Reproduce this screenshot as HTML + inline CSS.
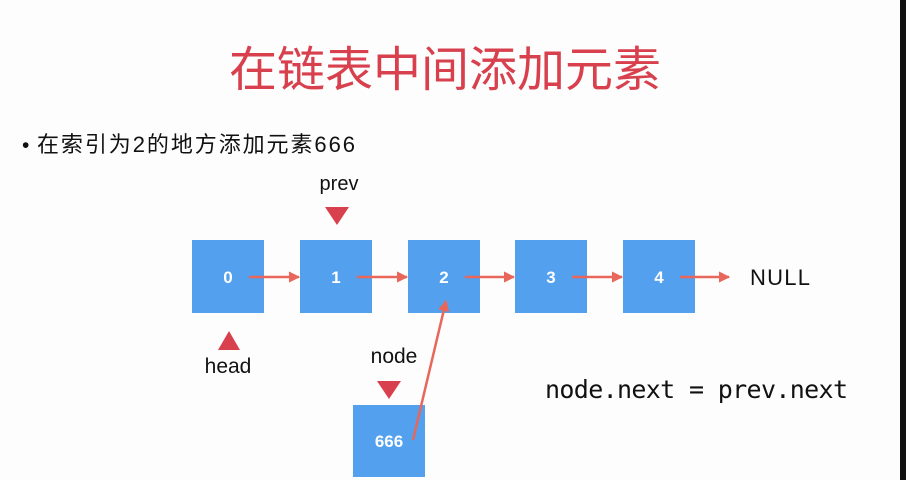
<!DOCTYPE html>
<html><head><meta charset="utf-8"><style>
html,body{margin:0;padding:0;background:#fdfdfd;}
body{width:906px;height:480px;overflow:hidden;position:relative;}
</style></head><body>
<svg width="906" height="480" viewBox="0 0 906 480" xmlns="http://www.w3.org/2000/svg" style="position:absolute;left:0;top:0">
<defs>
<marker id="a" viewBox="0 0 10 10" refX="9" refY="5" markerWidth="4.5" markerHeight="4.5" orient="auto"><path d="M0,0L10,5L0,10z" fill="#e8675a"/></marker>
</defs>
<rect x="0" y="0" width="906" height="480" fill="#fdfdfd"/>
<rect x="900" y="0" width="6" height="480" fill="#111"/>
<text x="445" y="86" text-anchor="middle" font-family="Liberation Sans,'Noto Sans CJK SC',sans-serif" font-size="48" fill="#d8404e">在链表中间添加元素</text>
<text x="22" y="152" font-family="Liberation Sans,'Noto Sans CJK SC',sans-serif" font-size="21" fill="#111">•</text>
<text x="37" y="152" font-family="Liberation Sans,'Noto Sans CJK SC',sans-serif" font-size="22" fill="#111" textLength="318">在索引为2的地方添加元素666</text>
<text x="339" y="190" text-anchor="middle" font-family="Liberation Sans,sans-serif" font-size="20" fill="#111">prev</text>
<path d="M325,207L349,207L337,225z" fill="#d8404e"/>
<g fill="#52a0ee">
<rect x="192" y="240" width="72" height="73"/>
<rect x="300" y="240" width="72" height="73"/>
<rect x="408" y="240" width="72" height="73"/>
<rect x="515" y="240" width="72" height="73"/>
<rect x="623" y="240" width="72" height="73"/>
<rect x="353" y="405" width="72" height="72"/>
</g>
<g font-family="Liberation Sans,sans-serif" font-size="17" font-weight="bold" fill="#fff" text-anchor="middle">
<text x="228" y="283">0</text><text x="336" y="283">1</text><text x="444" y="283">2</text><text x="551" y="283">3</text><text x="659" y="283">4</text><text x="389" y="447">666</text>
</g>
<g stroke="#e8675a" stroke-width="2.5" marker-end="url(#a)">
<line x1="249" y1="277" x2="299" y2="277"/>
<line x1="357" y1="277" x2="407" y2="277"/>
<line x1="465" y1="277" x2="514" y2="277"/>
<line x1="572" y1="277" x2="622" y2="277"/>
<line x1="680" y1="277" x2="729" y2="277"/>
<line x1="413" y1="440" x2="446" y2="301"/>
</g>
<text x="750" y="285" font-family="Liberation Sans,sans-serif" font-size="22" fill="#111" textLength="60">NULL</text>
<path d="M218,350L240,350L229,331z" fill="#d8404e"/>
<text x="228" y="373" text-anchor="middle" font-family="Liberation Sans,sans-serif" font-size="21" fill="#111">head</text>
<text x="394" y="363" text-anchor="middle" font-family="Liberation Sans,sans-serif" font-size="21" fill="#111">node</text>
<path d="M377,381L401,381L389,399z" fill="#d8404e"/>
<text x="545" y="398" font-family="DejaVu Sans Mono,Liberation Mono,monospace" font-size="25" fill="#111" textLength="303">node.next = prev.next</text>
</svg>
</body></html>
